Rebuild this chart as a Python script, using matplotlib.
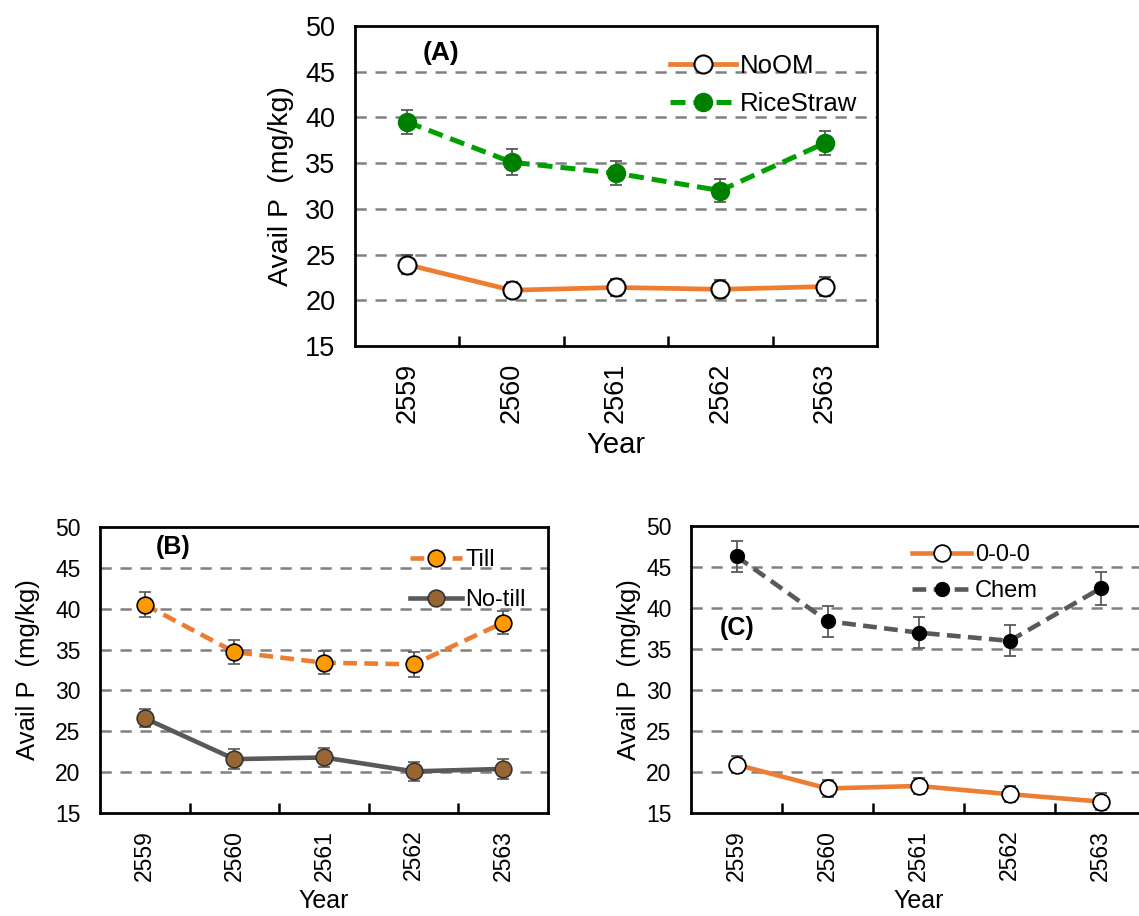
import numpy as np
import matplotlib
matplotlib.use('Agg')
from matplotlib import pyplot as plt
from matplotlib.lines import Line2D

plt.rcParams['font.family'] = ['Liberation Sans', 'DejaVu Sans']

# data
years = ['2559', '2560', '2561', '2562', '2563']

noom = [23.9, 21.1, 21.4, 21.2, 21.5]
noom_err = [1.0, 0.9, 0.9, 1.0, 1.0]
ricestraw = [39.5, 35.1, 33.9, 32.0, 37.2]
ricestraw_err = [1.3, 1.4, 1.3, 1.3, 1.3]

till = [40.5, 34.7, 33.4, 33.2, 38.3]
till_err = [1.5, 1.5, 1.4, 1.5, 1.4]
notill = [26.6, 21.6, 21.8, 20.1, 20.4]
notill_err = [1.1, 1.2, 1.2, 1.2, 1.2]

ctrl = [20.9, 18.0, 18.3, 17.3, 16.4]
ctrl_err = [1.0, 1.0, 1.0, 1.0, 1.0]
chem = [46.3, 38.4, 37.0, 36.0, 42.4]
chem_err = [1.9, 1.9, 1.9, 1.9, 2.0]

orange = '#ED7D31'
ecol = '#595959'
dash = (0, (3, 1.6))

fig = plt.figure(figsize=(11.39, 9.16), dpi=100)

ax_a = fig.add_axes([0.3117, 0.6223, 0.4583, 0.3493])
ax_b = fig.add_axes([0.0878, 0.1124, 0.3933, 0.3122])
ax_c = fig.add_axes([0.6067, 0.1124, 0.3995, 0.3133])


def setup(ax, tsize, lsize, xlsize, lpad):
    x = np.arange(len(years))
    ax.set_xlim(-0.5, len(years) - 0.5)
    ax.set_ylim(15, 50)
    ax.set_yticks(range(15, 51, 5))
    ax.set_xticks(x)
    ax.set_xticklabels(years, rotation=90, fontsize=tsize)
    ax.set_xticks(np.arange(0.5, len(years) - 1, 1), minor=True)
    ax.tick_params(axis='x', which='major', length=0, pad=12)
    ax.tick_params(axis='x', which='minor', direction='in', length=7, width=1.8)
    ax.tick_params(axis='y', length=0, labelsize=tsize, pad=14)
    for y in range(20, 50, 5):
        ax.axhline(y, color='#808080', lw=1.8, ls=(0, (4.5, 3.5)), zorder=0)
    for s in ax.spines.values():
        s.set_linewidth(2)
    ax.set_ylabel('Avail P  (mg/kg)', fontsize=lsize, labelpad=lpad)
    ax.set_xlabel('Year', fontsize=xlsize, labelpad=6)
    return x


def handles(specs):
    return [Line2D([], [], **s) for s in specs]


# (A)
x = setup(ax_a, 19.5, 20.5, 21, 8)
sa1 = dict(color=orange, lw=3.4, marker='o', ms=13, mfc='white', mec='black', mew=1.5)
sa2 = dict(color='#00A000', lw=3.6, ls=dash, marker='o', ms=13, mfc='green', mec='green')
ax_a.errorbar(x, noom, yerr=noom_err, ecolor=ecol, elinewidth=1.3,
              capsize=4, capthick=1.3, zorder=3, **sa1)
ax_a.errorbar(x, ricestraw, yerr=ricestraw_err, ecolor=ecol, elinewidth=1.3,
              capsize=4, capthick=1.3, zorder=3, **sa2)
ax_a.text(0.13, 0.916, '(A)', transform=ax_a.transAxes, fontsize=19,
          fontweight='bold', va='center')
ax_a.legend(handles([sa1, sa2]), ['NoOM', 'RiceStraw'], loc='upper left',
            bbox_to_anchor=(0.568, 0.97), frameon=False, fontsize=18.5,
            handlelength=2.6, handletextpad=0.15, labelspacing=0.55, borderpad=0.2)

# (B)
x = setup(ax_b, 16.5, 18.5, 18, 11)
sb1 = dict(color=orange, lw=3.3, ls=dash, marker='o', ms=12, mfc='#FF9900', mec='black', mew=1.2)
sb2 = dict(color='#595959', lw=3.3, marker='o', ms=12, mfc='#996633', mec='#333333', mew=1.2)
ax_b.errorbar(x, till, yerr=till_err, ecolor=ecol, elinewidth=1.3,
              capsize=4, capthick=1.3, zorder=3, **sb1)
ax_b.errorbar(x, notill, yerr=notill_err, ecolor=ecol, elinewidth=1.3,
              capsize=4, capthick=1.3, zorder=3, **sb2)
ax_b.text(0.125, 0.93, '(B)', transform=ax_b.transAxes, fontsize=18,
          fontweight='bold', va='center')
ax_b.legend(handles([sb1, sb2]), ['Till', 'No-till'], loc='upper left',
            bbox_to_anchor=(0.655, 0.98), frameon=False, fontsize=17,
            handlelength=2.2, handletextpad=0.15, labelspacing=0.75, borderpad=0.2)

# (C)
x = setup(ax_c, 16.5, 18.5, 18, 4)
sc1 = dict(color=orange, lw=3.3, marker='o', ms=12, mfc='white', mec='black', mew=1.3)
sc2 = dict(color='#595959', lw=3.3, ls=dash, marker='o', ms=10, mfc='black', mec='black')
ax_c.errorbar(x, ctrl, yerr=ctrl_err, ecolor=ecol, elinewidth=1.3,
              capsize=4, capthick=1.3, zorder=3, **sc1)
ax_c.errorbar(x, chem, yerr=chem_err, ecolor=ecol, elinewidth=1.3,
              capsize=4, capthick=1.3, zorder=3, **sc2)
ax_c.text(0.064, 0.645, '(C)', transform=ax_c.transAxes, fontsize=18,
          fontweight='bold', va='center')
ax_c.legend(handles([sc1, sc2]), ['0-0-0', 'Chem'], loc='upper left',
            bbox_to_anchor=(0.45, 0.995), frameon=False, fontsize=17,
            handlelength=2.5, handletextpad=0.15, labelspacing=0.6, borderpad=0.2)

fig.savefig('out.png', dpi=100)
